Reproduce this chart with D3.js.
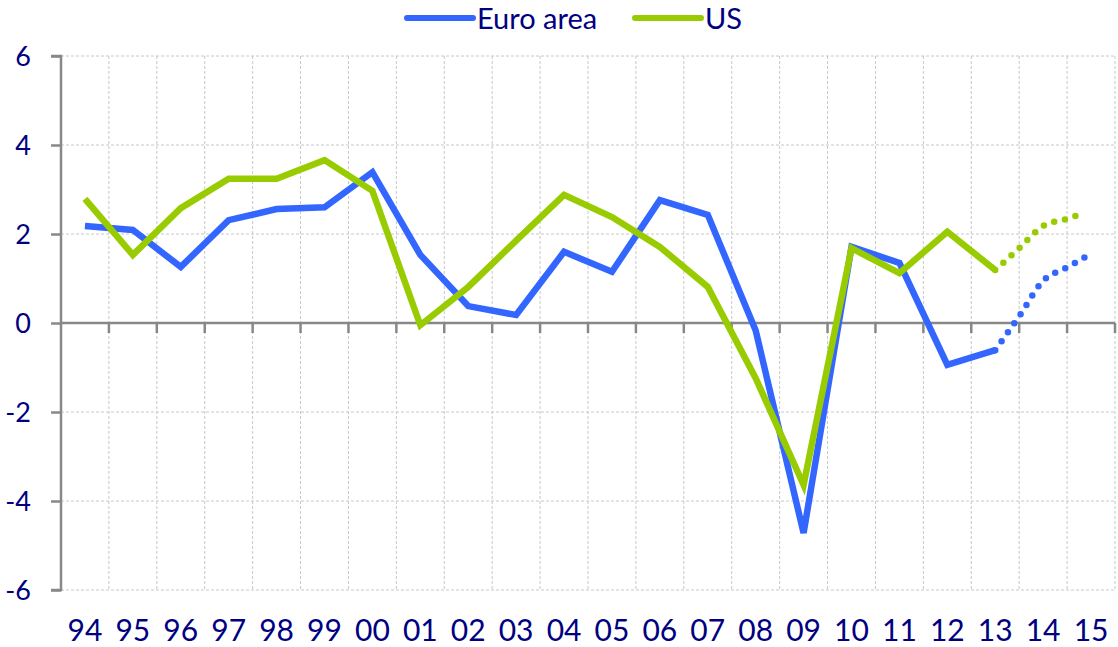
<!DOCTYPE html>
<html><head><meta charset="utf-8">
<script src="https://cdn.jsdelivr.net/npm/d3@7"></script>
<style>body{margin:0;background:#fff}svg{display:block}</style>
</head><body><svg id="c" width="1118" height="647"></svg>
<script>
const years = ["94","95","96","97","98","99","00","01","02","03","04","05","06","07","08","09","10","11","12","13","14","15"];
const euroArea = [2.18,2.09,1.26,2.31,2.56,2.60,3.39,1.53,0.38,0.18,1.60,1.15,2.76,2.43,-0.17,-4.72,1.71,1.35,-0.94,-0.61];
const us = [2.79,1.53,2.58,3.24,3.24,3.66,2.97,-0.05,0.81,1.85,2.88,2.38,1.71,0.81,-1.24,-3.64,1.68,1.12,2.05,1.19];
// projection segments (position in year index, value)
const euroProjPos = [19,19.5,20,20.5,20.95];
const euroProjVal = [-0.61,0.15,0.95,1.25,1.53];
const usProjPos = [19,19.5,20,20.5,20.8];
const usProjVal = [1.19,1.68,2.18,2.34,2.45];
const yTicks = [-6,-4,-2,0,2,4,6];

const svg = d3.select("#c");
const L = 61, R = 1115, T = 56, B = 590;
const font = "Lato, 'Open Sans', sans-serif";
const navy = "#000080", blue = "#3366ff", green = "#99cc00", axisGrey = "#888";

const xb = d3.scaleBand().domain(years).range([L, R]).padding(0);
const xi = d3.scaleLinear().domain([-0.5, years.length - 0.5]).range([L, R]);
const y = d3.scaleLinear().domain([-6, 6]).range([B, T]);

// gridlines
const g = svg.append("g");
g.selectAll(".hg").data(yTicks.filter(d => d !== 0)).join("line")
  .attr("x1", L).attr("x2", R).attr("y1", d => y(d)).attr("y2", d => y(d))
  .attr("stroke", "#c8c8c8").attr("stroke-width", 1).attr("stroke-dasharray", "3 2");
const bounds = years.map((d, i) => xb(d) + xb.bandwidth());
g.selectAll(".vg").data(bounds).join("line")
  .attr("x1", d => d).attr("x2", d => d).attr("y1", T).attr("y2", B)
  .attr("stroke", "#c8c8c8").attr("stroke-width", 1).attr("stroke-dasharray", "3 2");

// y axis
const yAxis = svg.append("g").attr("transform", `translate(${L},0)`)
  .call(d3.axisLeft(y).tickValues(yTicks).tickSize(10).tickPadding(20).tickFormat(d3.format("d")));
yAxis.select(".domain").attr("stroke", axisGrey).attr("stroke-width", 2.5).attr("d", `M-10,${T}H0V${B}H-10`);
yAxis.selectAll(".tick line").attr("stroke", axisGrey).attr("stroke-width", 2.5);
yAxis.selectAll(".tick text").attr("fill", navy).attr("font-family", font).attr("font-size", 27).attr("dy", "0.36em").text(d => d < 0 ? "-" + Math.abs(d) : d);

// x axis at zero
const xAxis = svg.append("g").attr("transform", `translate(0,${y(0)})`)
  .call(d3.axisBottom(xb).tickSize(0).tickFormat(""));
xAxis.select(".domain").attr("stroke", axisGrey).attr("stroke-width", 2.5).attr("d", `M${L},0H${R}`);
svg.append("g").selectAll("line").data(bounds).join("line")
  .attr("x1", d => d).attr("x2", d => d).attr("y1", y(0)).attr("y2", y(0) + 10)
  .attr("stroke", axisGrey).attr("stroke-width", 2.5);

// x labels at bottom
svg.append("g").selectAll("text").data(years).join("text")
  .attr("x", d => xb(d) + xb.bandwidth() / 2).attr("y", 641)
  .attr("text-anchor", "middle").attr("fill", navy).attr("font-family", font).attr("font-size", 30)
  .text(d => d);

// lines
const line = d3.line().x(d => xi(d[0])).y(d => y(d[1]));
const euroPts = euroArea.map((v, i) => [i, v]);
const usPts = us.map((v, i) => [i, v]);
svg.append("path").attr("d", line(euroPts)).attr("fill", "none").attr("stroke", blue).attr("stroke-width", 6.5).attr("stroke-linejoin", "miter");
svg.append("path").attr("d", line(usPts)).attr("fill", "none").attr("stroke", green).attr("stroke-width", 6.5).attr("stroke-linejoin", "miter");
const smooth = d3.line().curve(d3.curveMonotoneX).x(d => xi(d[0])).y(d => y(d[1]));
svg.append("path").attr("d", smooth(euroProjPos.map((p, i) => [p, euroProjVal[i]])))
  .attr("fill", "none").attr("stroke", blue).attr("stroke-width", 6.5).attr("stroke-linecap", "round").attr("stroke-dasharray", "0 11").attr("stroke-dashoffset", -11);
svg.append("path").attr("d", smooth(usProjPos.map((p, i) => [p, usProjVal[i]])))
  .attr("fill", "none").attr("stroke", green).attr("stroke-width", 6.5).attr("stroke-linecap", "round").attr("stroke-dasharray", "0 11").attr("stroke-dashoffset", -11);

// legend
const leg = svg.append("g");
const items = [{name: "Euro area", color: blue, x: 407}, {name: "US", color: green, x: 635}];
items.forEach(it => {
  leg.append("line").attr("x1", it.x).attr("x2", it.x + 66).attr("y1", 18).attr("y2", 18)
    .attr("stroke", it.color).attr("stroke-width", 6).attr("stroke-linecap", "round");
  leg.append("text").attr("x", it.x + 70).attr("y", 29).attr("fill", navy)
    .attr("font-family", font).attr("font-size", 29).text(it.name);
});
</script></body></html>
